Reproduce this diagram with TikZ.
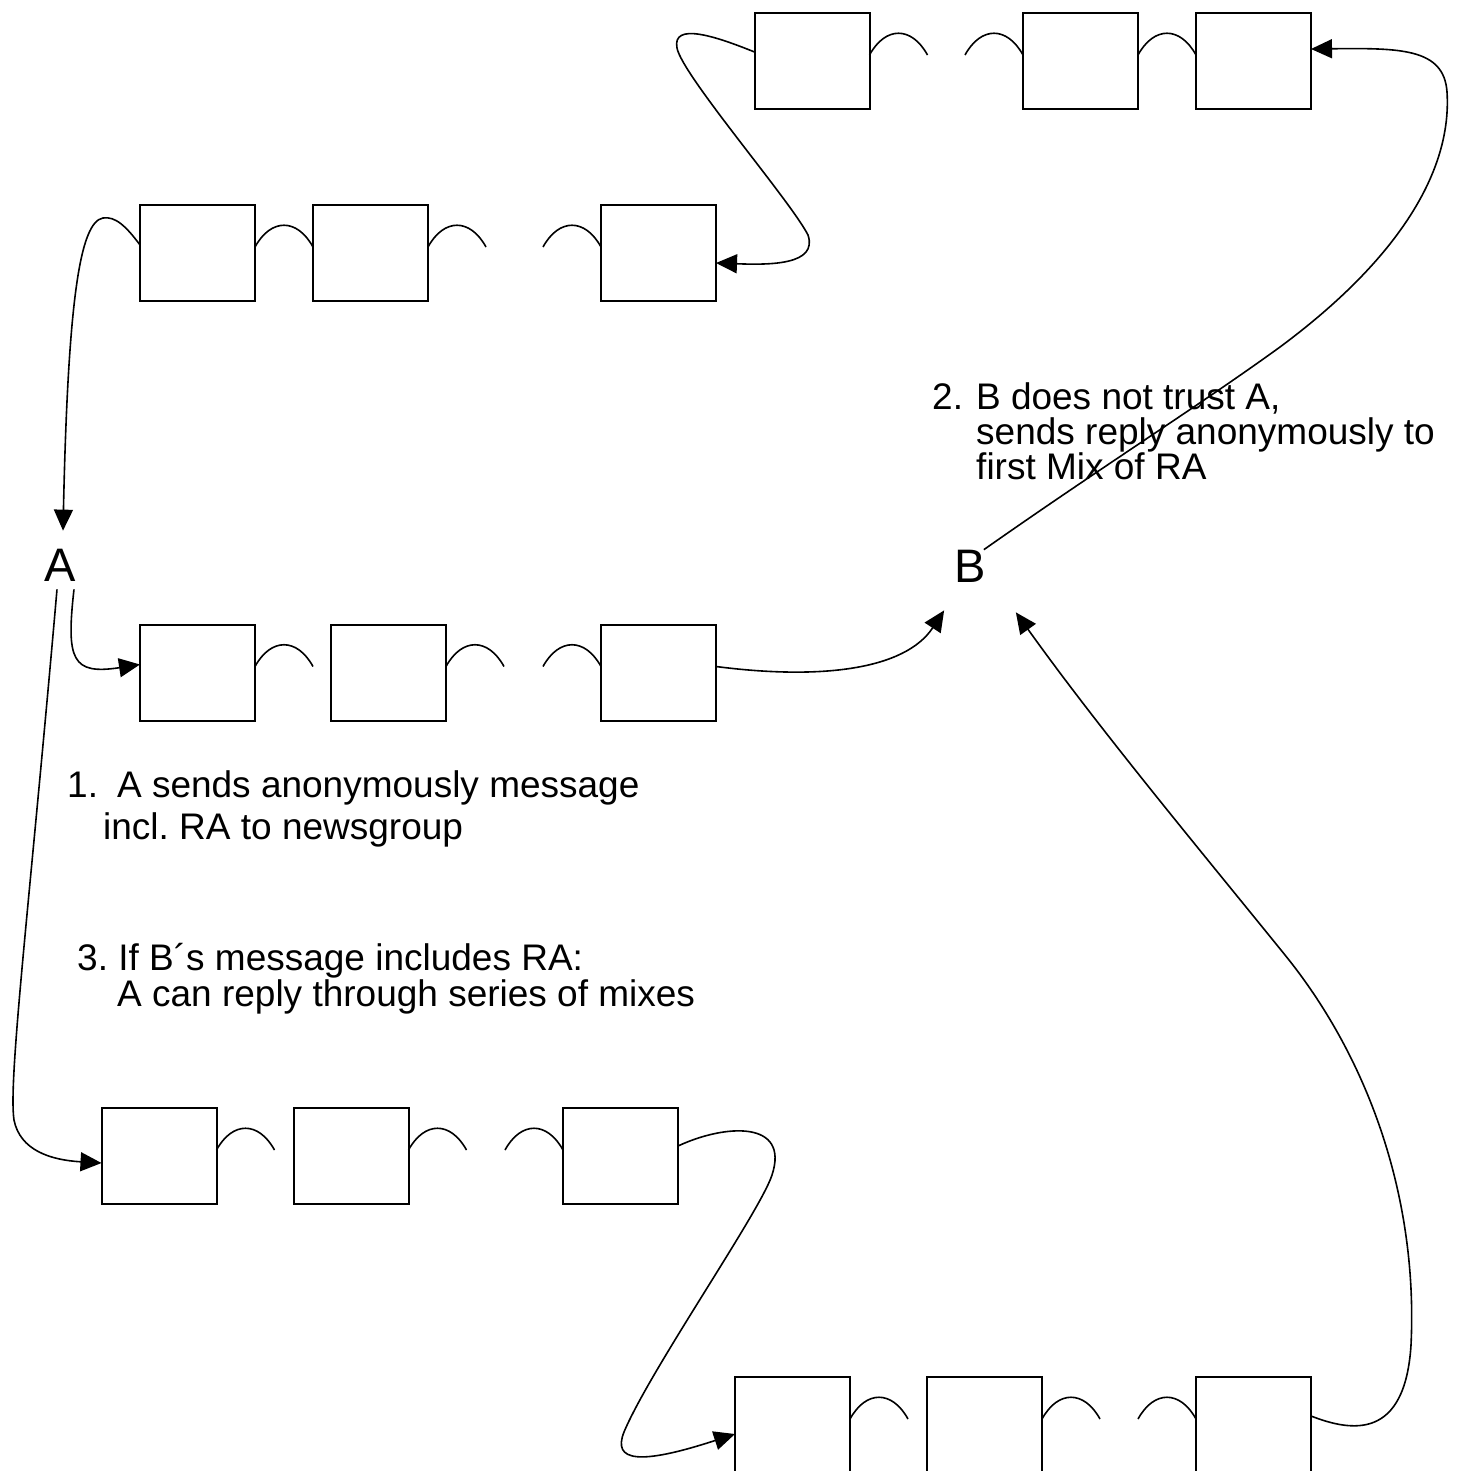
\documentclass[tikz,border=0pt]{standalone}
\usepackage{fontspec}
\setmainfont{Liberation Sans}
\usetikzlibrary{arrows.meta,calc}
\newcommand\humpR[1]{\draw[hump] ($(#1)+(0,-6)$) .. controls +(16,-29) and +(-16,-29) .. ++(58,0);}
\newcommand\humpL[1]{\draw[hump] ($(#1)+(-58,-6)$) .. controls +(16,-29) and +(-16,-29) .. ++(58,0);}
\begin{document}
\frenchspacing
\begin{tikzpicture}[x=1pt,y=-1pt,
  mixbox/.style={draw,line width=2pt,minimum width=115pt,minimum height=96pt,inner sep=0pt,outer sep=0pt},
  hump/.style={line width=1.6pt},
  conn/.style={line width=1.6pt,-{Triangle[length=21pt,width=19pt]}},
  lbl/.style={font=\fontsize{37}{42}\selectfont,anchor=base west,inner sep=0pt},
  big/.style={font=\fontsize{47}{52}\selectfont,inner sep=0pt}]
\useasboundingbox (0,0) rectangle (1458,1471);
\fill[white] (0,0) rectangle (1458,1471);
% boxes
\node[mixbox] (T1) at (812,61) {};
\node[mixbox] (T2) at (1080.5,61) {};
\node[mixbox] (T3) at (1253.5,61) {};
\node[mixbox] (R1) at (197.5,253) {};
\node[mixbox] (R2) at (370.5,253) {};
\node[mixbox] (R3) at (658.5,253) {};
\node[mixbox] (M1) at (197.5,672.5) {};
\node[mixbox] (M2) at (388.5,672.5) {};
\node[mixbox] (M3) at (658.5,672.5) {};
\node[mixbox] (L1) at (159,1156) {};
\node[mixbox] (L2) at (351,1156) {};
\node[mixbox] (L3) at (620.5,1156) {};
\node[mixbox] (B1) at (792.5,1425) {};
\node[mixbox] (B2) at (984.5,1425) {};
\node[mixbox] (B3) at (1253.5,1425) {};
% humps
\humpR{T1.east} \humpL{T2.west} \humpR{T2.east}
\humpR{R1.east} \humpR{R2.east} \humpL{R3.west}
\humpR{M1.east} \humpR{M2.east} \humpL{M3.west}
\humpR{L1.east} \humpR{L2.east} \humpL{L3.west}
\humpR{B1.east} \humpR{B2.east} \humpL{B3.west}
% parties
\node[big] (A) at (60,565) {A};
\node[big] (B) at (970,566) {B};
% texts
\node[lbl] (t1a) at (67,797) {1.\hspace{19pt}A sends anonymously message};
\node[lbl] (t1b) at (103,839) {incl. RA to newsgroup};
\node[lbl] (t2a) at (932,409) {2.\hspace{13pt}B does not trust A,};
\node[lbl] (t2b) at (976,444) {sends reply anonymously to};
\node[lbl] (t2c) at (976,479) {first Mix of RA};
\node[lbl] (t3a) at (77,970) {3. If B´s message includes RA:};
\node[lbl] (t3b) at (117,1006) {A can reply through series of mixes};
% connectors
\draw[conn] ($(R1.west)+(0,-8)$) .. controls (126,226) and (115,216) .. (103,218) .. controls (80,222) and (68,300) .. ($(A.north)+(3,-18)$);
\draw[conn] ($(A.south)+(14,8)$) .. controls (66,660) and (72,675) .. ($(M1.west)+(0,-8)$);
\draw[conn] ($(A.south)+(-3,8)$) .. controls (30,900) and (8,1080) .. (14,1120) .. controls (20,1150) and (50,1160) .. ($(L1.west)+(0,7)$);
\draw[conn] ($(M3.east)+(0,-6)$) .. controls (820,680) and (905,670) .. ($(B.south west)+(-10,28)$);
\draw[conn] ($(B.north east)+(-2,0)$) .. controls (1100,468) and (1200,405) .. (1280,347) .. controls (1400,258) and (1452,170) .. (1447,92) .. controls (1444,48) and (1400,48) .. ($(T3.east)+(0,-12)$);
\draw[conn] ($(B3.east)+(0,-9)$) .. controls (1352,1432) and (1405,1440) .. (1411,1345) .. controls (1418,1200) and (1370,1060) .. (1285,955) .. controls (1200,850) and (1100,730) .. ($(B.south east)+(30,30)$);
\draw[conn] ($(L3.east)+(0,-10)$) .. controls (725,1124) and (790,1120) .. (772,1175) .. controls (760,1212) and (650,1370) .. (624,1432) .. controls (612,1462) and (640,1465) .. ($(B1.west)+(0,9)$);
\draw[conn] ($(T1.west)+(0,-9)$) .. controls (715,36) and (672,22) .. (677,48) .. controls (682,75) and (790,200) .. (808,235) .. controls (818,265) and (770,265) .. ($(R3.east)+(0,10)$);
\end{tikzpicture}
\end{document}
